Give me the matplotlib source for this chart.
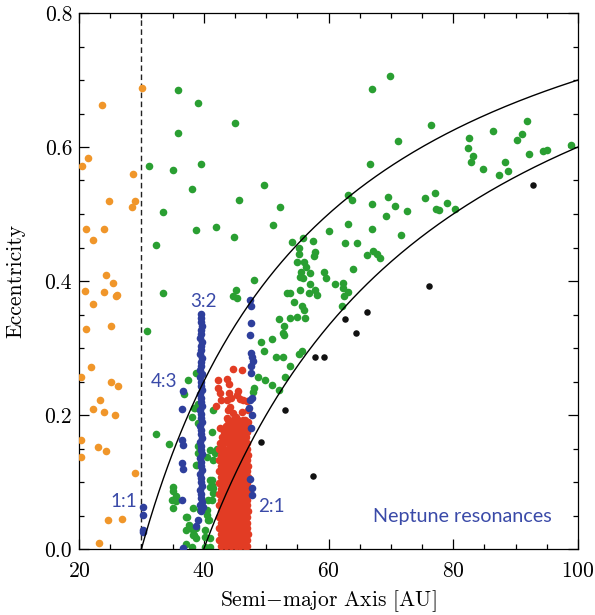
import numpy as np
import matplotlib
matplotlib.use("Agg")
import matplotlib.pyplot as plt

plt.rcParams['font.family'] = 'serif'
plt.rcParams['font.serif'] = ['cmr10']
plt.rcParams['mathtext.fontset'] = 'cm'
plt.rcParams['axes.formatter.use_mathtext'] = True

# colours
c_orange = '#f0962a'
c_green = '#2a9f32'
c_red = '#e23c24'
c_blue = '#2e3f9c'
c_text = '#3a4aa8'

# (a [AU], e)
orange = [(30.05, 0.688), (23.7, 0.663), (21.4, 0.583), (20.5, 0.571), (28.7, 0.559),
          (24.8, 0.520), (28.9, 0.519), (28.5, 0.510), (21.1, 0.478), (24.0, 0.478),
          (22.3, 0.461), (24.3, 0.409), (25.4, 0.397), (20.9, 0.385), (24.0, 0.383),
          (25.9, 0.378), (26.1, 0.379), (22.2, 0.366), (21.2, 0.328), (25.2, 0.333),
          (22.0, 0.272), (20.3, 0.256), (25.2, 0.250), (26.3, 0.243), (23.3, 0.223),
          (22.2, 0.209), (24.0, 0.204), (25.8, 0.200), (20.3, 0.163), (20.3, 0.138),
          (23.1, 0.152), (24.3, 0.146), (29.0, 0.114), (24.6, 0.043), (26.9, 0.045),
          (23.2, 0.009)]

green = [(35.9, 0.685), (39.0, 0.665), (45.0, 0.636), (35.9, 0.621), (31.2, 0.571),
         (35.1, 0.565), (39.6, 0.574), (38.1, 0.538), (49.7, 0.544), (45.6, 0.521),
         (52.2, 0.510), (33.4, 0.503), (38.7, 0.476), (41.9, 0.480), (44.9, 0.466),
         (51.1, 0.483), (32.3, 0.453), (54.2, 0.458), (48.0, 0.401), (33.4, 0.382),
         (45.1, 0.387), (44.7, 0.378), (45.3, 0.374), (53.3, 0.382), (53.8, 0.382),
         (55.2, 0.449), (55.3, 0.441), (55.0, 0.428), (56.1, 0.429), (56.4, 0.421),
         (55.6, 0.414), (57.1, 0.412), (55.9, 0.404), (55.4, 0.386),
         (69.9, 0.706), (67.0, 0.686), (76.4, 0.633), (71.1, 0.609), (66.7, 0.574),
         (82.6, 0.613), (86.4, 0.624), (82.3, 0.598), (83.2, 0.586), (82.8, 0.577),
         (84.8, 0.567), (87.3, 0.558), (88.3, 0.578), (88.7, 0.564), (90.2, 0.610),
         (91.1, 0.619), (91.8, 0.639), (92.2, 0.590), (94.4, 0.594), (95.0, 0.596),
         (98.8, 0.603), (63.1, 0.528), (63.8, 0.521), (67.0, 0.515), (69.6, 0.526),
         (70.7, 0.512), (72.6, 0.505), (75.5, 0.524), (77.1, 0.532), (77.3, 0.508),
         (77.7, 0.506), (79.0, 0.516), (80.3, 0.508), (63.1, 0.485), (60.0, 0.474),
         (55.9, 0.464), (57.5, 0.460), (62.6, 0.457), (64.6, 0.457), (69.2, 0.497),
         (67.0, 0.477), (71.6, 0.468), (66.1, 0.439), (67.1, 0.445), (67.8, 0.440),
         (68.3, 0.435), (57.8, 0.444), (57.6, 0.437), (59.3, 0.414), (59.6, 0.405),
         (64.0, 0.418), (61.1, 0.396), (62.4, 0.397), (62.3, 0.389), (63.2, 0.383),
         (62.5, 0.377), (62.2, 0.362), (57.1, 0.395), (55.4, 0.406), (57.9, 0.387),
         (58.2, 0.379), (56.8, 0.382),
         (54.5, 0.369), (55.8, 0.363), (56.1, 0.357), (56.2, 0.345), (54.9, 0.347),
         (53.8, 0.345), (52.1, 0.343), (52.8, 0.333), (52.7, 0.322), (52.9, 0.319),
         (50.9, 0.314), (49.2, 0.309), (49.7, 0.296), (51.6, 0.286), (52.7, 0.286),
         (53.9, 0.273), (55.3, 0.291), (55.8, 0.296), (53.0, 0.257), (48.7, 0.257),
         (49.8, 0.252), (51.0, 0.245), (52.1, 0.237), (48.1, 0.240), (47.9, 0.235),
         (30.9, 0.325), (38.7, 0.263), (37.5, 0.252), (36.8, 0.232), (38.1, 0.197),
         (38.6, 0.210), (32.4, 0.171), (34.5, 0.157), (38.9, 0.125), (39.0, 0.217),
         (38.4, 0.210), (39.0, 0.188), (39.0, 0.153), (39.1, 0.143), (38.7, 0.125),
         (35.1, 0.093), (35.1, 0.086), (35.5, 0.079), (34.9, 0.073), (35.5, 0.071),
         (35.1, 0.061), (37.1, 0.048), (37.6, 0.036), (37.2, 0.029), (38.2, 0.028),
         (38.4, 0.021), (38.8, 0.031), (38.8, 0.016), (37.1, 0.007), (38.3, 0.061),
         (39.4, 0.058), (37.3, 0.048), (37.8, 0.033), (38.3, 0.021), (38.1, 0.003),
         (40.2, 0.003), (41.5, 0.207), (41.3, 0.175), (42.1, 0.150), (41.8, 0.143),
         (41.5, 0.133), (41.3, 0.103), (41.0, 0.093), (41.5, 0.083), (41.3, 0.073),
         (40.5, 0.058), (40.7, 0.043), (40.2, 0.018), (41.0, 0.003), (41.0, 0.148),
         (41.0, 0.103), (41.3, 0.096), (40.7, 0.073), (40.5, 0.051), (40.9, 0.043),
         (40.2, 0.028), (41.0, 0.016), (40.6, 0.138), (41.5, 0.091)]

# classical belt: sparse upper part
red_sparse = [(44.7, 0.268), (46.2, 0.267), (42.3, 0.252), (43.8, 0.253), (44.1, 0.246),
              (42.3, 0.241), (42.6, 0.233), (44.1, 0.233), (45.5, 0.236), (44.3, 0.226),
              (45.4, 0.230), (45.8, 0.224), (42.7, 0.223), (42.0, 0.213), (46.3, 0.222),
              (43.9, 0.207), (45.2, 0.197), (46.2, 0.205), (46.9, 0.221), (47.1, 0.207),
              (42.6, 0.180), (43.7, 0.195), (46.6, 0.193), (47.1, 0.190), (44.2, 0.212),
              (44.7, 0.203), (43.7, 0.222)]

# classical belt: dense core, one row of a values per eccentricity
red_core_e = [0.192, 0.183, 0.175, 0.167, 0.158, 0.150, 0.141, 0.133, 0.124, 0.116,
              0.107, 0.099, 0.090, 0.082, 0.073, 0.065, 0.056, 0.048, 0.039, 0.031,
              0.022, 0.014, 0.005]
red_core_a = [[43.9, 44.7, 45.5, 46.3],
              [43.5, 44.3, 45.1, 45.9, 46.6],
              [43.3, 44.0, 44.8, 45.6, 46.3, 46.9],
              [42.9, 43.6, 44.4, 45.2, 45.9, 46.7],
              [42.6, 43.3, 44.1, 44.9, 45.6, 46.4, 47.0],
              [42.4, 43.1, 43.9, 44.6, 45.4, 46.2, 46.9],
              [42.7, 43.5, 44.3, 45.0, 45.8, 46.6, 47.1],
              [42.4, 43.1, 43.9, 44.7, 45.5, 46.2, 46.9],
              [42.8, 43.5, 44.3, 45.1, 45.9, 46.6, 47.1],
              [42.4, 43.1, 43.9, 44.7, 45.5, 46.2, 46.9],
              [42.7, 43.5, 44.3, 45.1, 45.8, 46.6, 47.1],
              [42.4, 43.2, 43.9, 44.7, 45.5, 46.3, 46.9],
              [42.8, 43.6, 44.3, 45.1, 45.9, 46.6, 47.1],
              [42.4, 43.1, 43.9, 44.7, 45.5, 46.2, 46.9],
              [42.7, 43.5, 44.3, 45.1, 45.8, 46.6, 47.0],
              [42.4, 43.2, 43.9, 44.7, 45.5, 46.3, 46.9],
              [42.8, 43.6, 44.3, 45.1, 45.9, 46.6, 47.1],
              [42.4, 43.1, 43.9, 44.7, 45.5, 46.2, 46.9],
              [42.7, 43.5, 44.3, 45.1, 45.8, 46.6, 47.0],
              [42.4, 43.2, 43.9, 44.7, 45.5, 46.3, 46.9],
              [42.8, 43.6, 44.3, 45.1, 45.9, 46.6, 47.1],
              [42.4, 43.1, 43.9, 44.7, 45.5, 46.2, 46.9],
              [42.7, 43.5, 44.3, 45.1, 45.8, 46.6, 47.0]]

# resonant objects
blue_11 = [(30.2, 0.062), (30.2, 0.051), (30.3, 0.029), (30.2, 0.026)]
blue_43 = [(36.6, 0.236), (36.5, 0.209), (36.5, 0.163), (36.6, 0.155), (36.5, 0.128),
           (36.6, 0.119), (36.5, 0.073), (36.7, 0.002)]
blue_32 = [(39.5, 0.351), (39.6, 0.345), (39.5, 0.339), (39.7, 0.333), (39.5, 0.327),
           (39.6, 0.321), (39.4, 0.315), (39.7, 0.309), (39.5, 0.303), (39.6, 0.297),
           (39.4, 0.291), (39.7, 0.285), (39.5, 0.279), (39.6, 0.273), (39.4, 0.267),
           (39.7, 0.261), (39.4, 0.256), (39.6, 0.250), (39.5, 0.244), (39.7, 0.238),
           (39.4, 0.232), (39.6, 0.226), (39.5, 0.220), (39.7, 0.214), (39.4, 0.208),
           (39.6, 0.202), (39.5, 0.196), (39.7, 0.190), (39.4, 0.184), (39.6, 0.178),
           (39.5, 0.172), (39.7, 0.166), (39.4, 0.160), (39.6, 0.154), (39.5, 0.148),
           (39.7, 0.142), (39.4, 0.136), (39.6, 0.130), (39.5, 0.124), (39.7, 0.118),
           (39.4, 0.112), (39.6, 0.106), (39.5, 0.100), (39.7, 0.094), (39.4, 0.088),
           (39.6, 0.082), (39.5, 0.076), (39.7, 0.070), (39.4, 0.065), (39.6, 0.060),
           (39.5, 0.056), (39.8, 0.062), (39.1, 0.043), (38.8, 0.034)]
blue_21 = [(47.4, 0.372), (47.5, 0.362), (47.5, 0.338), (47.4, 0.319), (47.5, 0.293),
           (47.8, 0.286), (47.9, 0.280), (47.6, 0.273), (47.5, 0.262), (47.7, 0.226),
           (47.4, 0.222), (47.3, 0.210), (47.8, 0.200), (47.6, 0.180), (47.4, 0.105),
           (47.8, 0.091), (47.8, 0.081)]

black = [(92.8, 0.543), (76.1, 0.392), (66.1, 0.353), (62.7, 0.343), (64.4, 0.322),
         (57.8, 0.286), (59.2, 0.286), (57.5, 0.109), (53.0, 0.208), (49.1, 0.160)]

# resonance labels
res_labels = ['1:1', '4:3', '3:2', '2:1']
res_pos = [(27.2, 0.071), (33.6, 0.250), (39.9, 0.369), (50.9, 0.063)]

# perihelion limits q = a(1-e)
q_vals = [30, 40]


def xy(pts):
    a = np.array([p[0] for p in pts])
    e = np.array([p[1] for p in pts])
    return a, e


fig = plt.figure(figsize=(5.95, 6.15), dpi=100)
ax = fig.add_axes([79 / 595, 1 - 549 / 615, 499 / 595, 536 / 615])

ms = 30
a, e = xy(green)
ax.scatter(a, e, s=ms, color=c_green, linewidths=0, zorder=2)

core_a = []
core_e = []
for ee, row in zip(red_core_e, red_core_a):
    for aa in row:
        core_a.append(aa)
        core_e.append(ee)
ax.scatter(core_a, core_e, s=ms, color=c_red, linewidths=0, zorder=3)
a, e = xy(red_sparse)
ax.scatter(a, e, s=ms, color=c_red, linewidths=0, zorder=3)

for grp in [blue_11, blue_43, blue_32, blue_21]:
    a, e = xy(grp)
    ax.scatter(a, e, s=ms, color=c_blue, linewidths=0, zorder=4)

a, e = xy(black)
ax.scatter(a, e, s=22, color='#111111', linewidths=0, zorder=4)
a, e = xy(orange)
ax.scatter(a, e, s=ms, color=c_orange, linewidths=0, zorder=4)

for q in q_vals:
    aa = np.linspace(q, 100, 200)
    ax.plot(aa, 1 - q / aa, color='black', lw=1.0, zorder=5)

ax.axvline(30, color='#222222', lw=1.0, ls=(0, (4, 2.5)), zorder=1)

for lab, (xa, ye) in zip(res_labels, res_pos):
    ax.text(xa, ye, lab, color=c_text, family='Lato', fontsize=13.5,
            ha='center', va='center', zorder=6)
ax.text(81.4, 0.049, 'Neptune resonances', color=c_text, family='Lato',
        fontsize=14.2, ha='center', va='center')

ax.set_xlim(20, 100)
ax.set_ylim(0, 0.8)
ax.set_xticks([20, 40, 60, 80, 100])
ax.set_xticks(np.arange(20, 101, 5), minor=True)
ax.set_yticks([0.0, 0.2, 0.4, 0.6, 0.8])
ax.set_yticks(np.arange(0, 0.81, 0.05), minor=True)
ax.set_yticklabels(['0.0', '0.2', '0.4', '0.6', '0.8'])
ax.tick_params(which='both', direction='in', top=True, right=True, width=0.9)
ax.tick_params(which='major', length=7.5, labelsize=15.5)
ax.tick_params(axis='x', which='major', pad=9)
ax.tick_params(axis='y', which='major', pad=5)
ax.tick_params(which='minor', length=3.8)
for sp in ax.spines.values():
    sp.set_linewidth(0.9)

ax.set_xlabel('Semi$-$major Axis [AU]', fontsize=15.5)
ax.set_ylabel('Eccentricity', fontsize=15.5)
ax.xaxis.set_label_coords(0.5, -0.074)
ax.yaxis.set_label_coords(-0.108, 0.5)

fig.savefig('out.png', dpi=100)
